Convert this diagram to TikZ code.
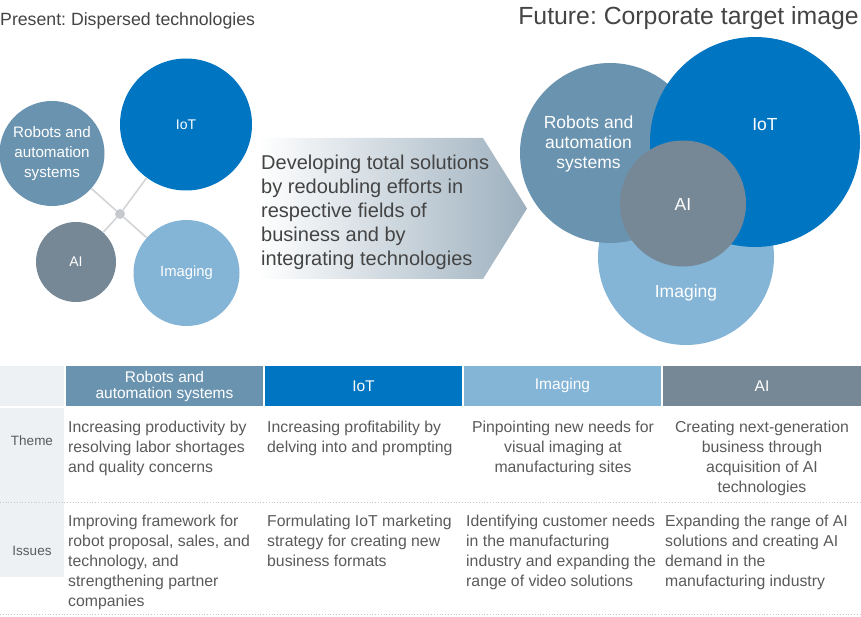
\documentclass[tikz,border=0pt]{standalone}
\usepackage{fontspec}
\setmainfont{Liberation Sans}
\frenchspacing
\definecolor{robc}{HTML}{6A93B0}
\definecolor{iotc}{HTML}{0075C2}
\definecolor{imgc}{HTML}{84B4D6}
\definecolor{aic}{HTML}{768896}
\definecolor{arrc}{HTML}{9DB0BE}
\definecolor{lblbg}{HTML}{EDF1F4}
\definecolor{txtc}{HTML}{5A5A5A}
\definecolor{ttlc}{HTML}{444444}
\definecolor{linec}{HTML}{D2D4D6}
\definecolor{dotc}{HTML}{C6CACE}
\definecolor{rulec}{HTML}{C8C8C8}
\begin{document}
\begin{tikzpicture}[x=1pt,y=-1pt,
  bubble/.style={circle,inner sep=0pt,text=white,align=center},
  smallbub/.style={bubble,font=\fontsize{14}{20}\selectfont},
  blabel/.style={text=white,align=center,inner sep=0pt,font=\fontsize{17.5}{20}\selectfont},
  hdr/.style={inner sep=0pt,minimum height=40pt,text=white,align=center,font=\fontsize{15.5}{16}\selectfont},
  rowlbl/.style={text=txtc,font=\fontsize{13.5}{16}\selectfont,inner sep=0pt},
  cellL/.style={anchor=north west,inner sep=0pt,align=left,text=txtc,font=\fontsize{15.8}{20}\selectfont},
  cellC/.style={anchor=north,inner sep=0pt,align=center,text=txtc,font=\fontsize{15.8}{20}\selectfont},
  conn/.style={draw=linec,line width=1.6pt},
  rulel/.style={draw=rulec,line width=0.8pt,dotted}]
\useasboundingbox (0,0) rectangle (861,617);

% titles
\node[anchor=base west,inner sep=0pt,text=ttlc,font=\fontsize{17.7}{20}\selectfont] (ttlL) at (0,26) {Present: Dispersed technologies};
\node[anchor=base east,inner sep=0pt,text=ttlc,font=\fontsize{24.8}{28}\selectfont] (ttlR) at (859,25) {Future: Corporate target image};

% left bubbles
\node[smallbub,fill=robc,minimum size=105pt,font=\fontsize{15.2}{20}\selectfont] (robL) at (52,153.5) {Robots and\\automation\\systems};
\node[smallbub,fill=iotc,minimum size=132pt] (iotL) at (186,124.5) {IoT};
\node[smallbub,fill=aic,minimum size=80pt] (aiL) at (76,262) {AI};
\node[smallbub,fill=imgc,minimum size=106pt,font=\fontsize{14.8}{20}\selectfont] (imgL) at (186.5,273) {Imaging};
\node[circle,fill=dotc,inner sep=0pt,minimum size=10pt] (hub) at (120,214) {};
\draw[conn] (hub) -- (robL);
\draw[conn] (hub) -- (iotL);
\draw[conn] (hub) -- (aiL);
\draw[conn] (hub) -- (imgL);

% arrow
\shade[left color=white,right color=arrc] (258,138) -- (483,138) -- (527,208.5) -- (483,279) -- (258,279) -- cycle;
\node[anchor=north west,inner sep=0pt,align=left,text=ttlc,font=\fontsize{20}{24}\selectfont] (msg) at (261,155) {Developing total solutions\\by redoubling efforts in\\respective fields of\\business and by\\integrating technologies};

% right bubbles
\node[bubble,fill=imgc,minimum size=176pt] (imgR) at (686,257) {};
\node[bubble,fill=robc,minimum size=180pt] (robR) at (610,153) {};
\node[bubble,fill=iotc,minimum size=210pt] (iotR) at (755,142) {};
\node[bubble,fill=aic,minimum size=126pt] (aiR) at (683,203.5) {};
\node[blabel] (robRt) at (588.5,144) {Robots and\\automation\\systems};
\node[blabel] (iotRt) at (765,125) {IoT};
\node[blabel] (aiRt) at (683,204) {AI};
\node[blabel] (imgRt) at (686,293) {Imaging};

% table
\fill[lblbg] (0,366) rectangle (64,406);
\fill[lblbg] (0,408) rectangle (64,577);
\fill[robc] (66,366) rectangle (263,406);
\fill[iotc] (265,366) rectangle (462,406);
\fill[imgc] (464,366) rectangle (661,406);
\fill[aic] (663,366) rectangle (861,406);
\node[hdr] (h1) at (164.5,386) {Robots and\\automation systems};
\node[hdr] (h2) at (363.5,386) {IoT};
\node[hdr] (h3) at (562.5,385) {Imaging};
\node[hdr] (h4) at (762,386) {AI};
\draw[rulel] (0,502) -- (861,502);
\draw[rulel] (0,614.5) -- (861,614.5);
\node[rowlbl] (thm) at (32,441) {Theme};
\node[rowlbl] (iss) at (32,551) {Issues};

\node[cellL] (t1) at (68,421) {Increasing productivity by\\resolving labor shortages\\and quality concerns};
\node[cellL] (t2) at (267,421) {Increasing profitability by\\delving into and prompting};
\node[cellC] (t3) at (563,421) {Pinpointing new needs for\\visual imaging at\\manufacturing sites};
\node[cellC] (t4) at (762,421) {Creating next-generation\\business through\\acquisition of AI\\technologies};
\node[cellL] (i1) at (68,515) {Improving framework for\\robot proposal, sales, and\\technology, and\\strengthening partner\\companies};
\node[cellL] (i2) at (267,515) {Formulating IoT marketing\\strategy for creating new\\business formats};
\node[cellL] (i3) at (466,515) {Identifying customer needs\\in the manufacturing\\industry and expanding the\\range of video solutions};
\node[cellL] (i4) at (665,515) {Expanding the range of AI\\solutions and creating AI\\demand in the\\manufacturing industry};
\end{tikzpicture}
\end{document}
